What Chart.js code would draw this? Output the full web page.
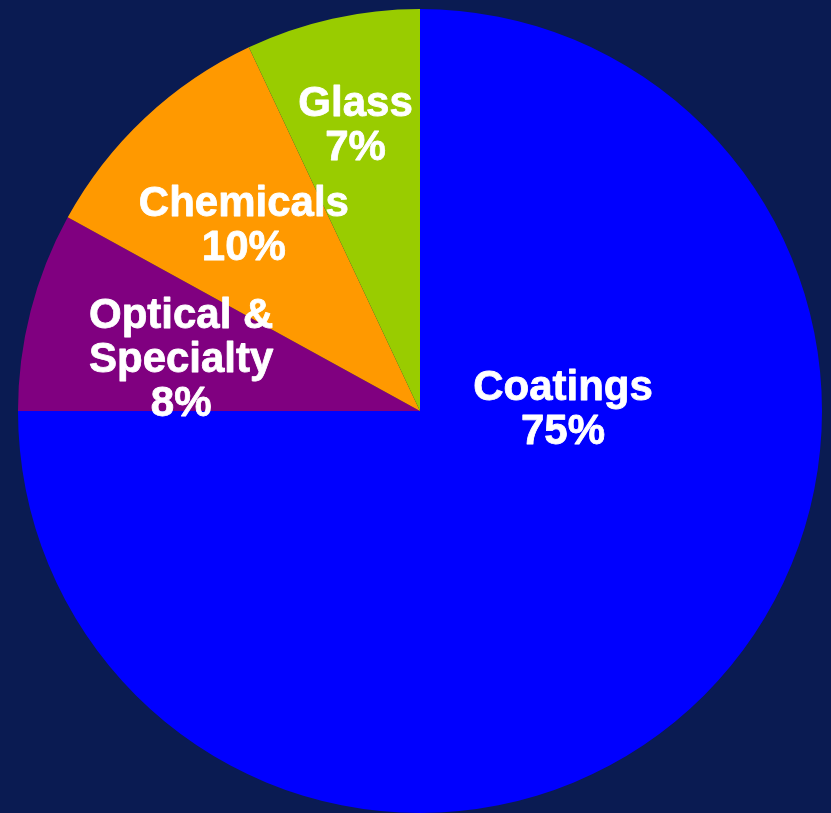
<!DOCTYPE html>
<html lang="en">
<head>
    <meta charset="UTF-8">
    <title>Market Share by Segment</title>
    <script src="https://cdn.jsdelivr.net/npm/chart.js"></script>
    <style>
        html, body { margin: 0; padding: 0; background: #0a1b52; }
        canvas { display: block; }
    </style>
</head>
<body>
    <canvas id="segmentPie" width="831" height="813"></canvas>
    <script>
        // Segment data
        const segments = ['Coatings', 'Optical & Specialty', 'Chemicals', 'Glass'];
        const shares = [75, 8, 10, 7];
        const labelLines = [
            ['Coatings', '75%'],
            ['Optical &', 'Specialty', '8%'],
            ['Chemicals', '10%'],
            ['Glass', '7%']
        ];
        const sliceColors = ['#0000ff', '#800080', '#ff9900', '#99cc00'];

        // Where each label sits: angle in degrees (null = slice middle) and
        // distance as a fraction of the pie radius
        const labelPlace = [
            { angle: -1.8, r: 0.356 },
            { angle: -167.3, r: 0.609 },
            { angle: null, r: 0.640 },
            { angle: null, r: 0.735 }
        ];

        // Draws the white multi-line labels inside the slices
        const sliceLabels = {
            id: 'sliceLabels',
            afterDatasetsDraw(chart) {
                const ctx = chart.ctx;
                const arcs = chart.getDatasetMeta(0).data;
                const size = 42;
                const lineHeight = 44;
                const capHeight = size * 0.716;
                ctx.save();
                ctx.fillStyle = '#ffffff';
                ctx.strokeStyle = '#ffffff';
                ctx.lineWidth = 0.8;
                ctx.lineJoin = 'round';
                ctx.font = 'bold ' + size + 'px "Liberation Sans", Arial, sans-serif';
                ctx.textAlign = 'center';
                ctx.textBaseline = 'alphabetic';
                arcs.forEach((arc, i) => {
                    const p = arc.getProps(['x', 'y', 'startAngle', 'endAngle', 'outerRadius'], true);
                    const place = labelPlace[i];
                    const a = place.angle === null
                        ? (p.startAngle + p.endAngle) / 2
                        : place.angle * Math.PI / 180;
                    const cx = p.x + Math.cos(a) * p.outerRadius * place.r;
                    const cy = p.y + Math.sin(a) * p.outerRadius * place.r;
                    const lines = labelLines[i];
                    lines.forEach((line, j) => {
                        const y = cy + capHeight / 2 + (j - (lines.length - 1) / 2) * lineHeight;
                        ctx.fillText(line, cx, y);
                        ctx.strokeText(line, cx, y);
                    });
                });
                ctx.restore();
            }
        };

        const ctx = document.getElementById('segmentPie').getContext('2d');
        new Chart(ctx, {
            type: 'pie',
            data: {
                labels: segments,
                datasets: [{
                    data: shares,
                    backgroundColor: sliceColors,
                    borderWidth: 0
                }]
            },
            options: {
                responsive: false,
                animation: false,
                layout: {
                    padding: { left: 18, right: 9, top: 9, bottom: 0 }
                },
                plugins: {
                    legend: { display: false },
                    tooltip: { enabled: false }
                }
            },
            plugins: [sliceLabels]
        });
    </script>
</body>
</html>
